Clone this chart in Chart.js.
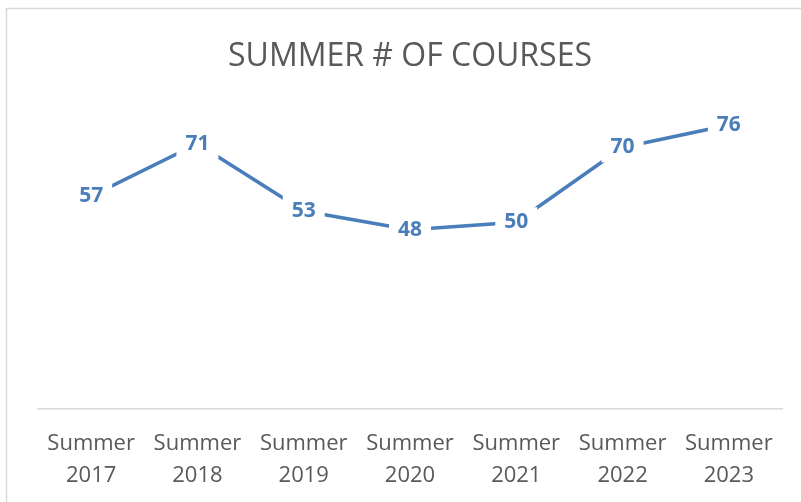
<!DOCTYPE html>
<html>
<head>
<meta charset="utf-8">
<script src="https://cdn.jsdelivr.net/npm/chart.js@4/dist/chart.umd.min.js"></script>
<style>
  html, body { margin: 0; padding: 0; background: #fff; overflow: hidden; }
  #wrap { width: 801px; height: 502px; overflow: hidden; }
</style>
</head>
<body>
<div id="wrap"><canvas id="chart" width="801" height="511"></canvas></div>
<script>
const categories = [
  ['Summer', '2017'], ['Summer', '2018'], ['Summer', '2019'], ['Summer', '2020'],
  ['Summer', '2021'], ['Summer', '2022'], ['Summer', '2023']
];
const courses = [57, 71, 53, 48, 50, 70, 76];

const lineBlue = '#4a7ebb';
const textGrey = '#595959';
const fontName = "'Open Sans', 'Liberation Sans', sans-serif";

// outer frame, like the office chart border
const frame = {
  id: 'frame',
  beforeDraw(chart) {
    const ctx = chart.ctx;
    ctx.save();
    ctx.fillStyle = '#fff';
    ctx.fillRect(0, 0, chart.width, chart.height);
    ctx.strokeStyle = '#d9d9d9';
    ctx.lineWidth = 1.5;
    ctx.strokeRect(6.5, 8.5, chart.width + 10, chart.height + 10);
    ctx.restore();
  }
};

// value labels centred on the points, with a white box that cuts the line
const pointLabels = {
  id: 'pointLabels',
  afterDatasetsDraw(chart) {
    const ctx = chart.ctx;
    const meta = chart.getDatasetMeta(0);
    ctx.save();
    ctx.font = 'bold 21px ' + fontName;
    ctx.textAlign = 'center';
    ctx.textBaseline = 'middle';
    meta.data.forEach((pt, i) => {
      const txt = String(chart.data.datasets[0].data[i]);
      const w = ctx.measureText(txt).width;
      ctx.fillStyle = '#fff';
      ctx.fillRect(pt.x - w / 2 - 9, pt.y - 15, w + 18, 30);
      ctx.fillStyle = lineBlue;
      ctx.fillText(txt, pt.x, pt.y);
    });
    ctx.restore();
  }
};

new Chart(document.getElementById('chart'), {
  type: 'line',
  data: {
    labels: categories,
    datasets: [{
      data: courses,
      borderColor: lineBlue,
      borderWidth: 3.5,
      pointRadius: 0,
      tension: 0,
      fill: false
    }]
  },
  options: {
    responsive: false,
    animation: false,
    layout: { padding: { left: 38, right: 19, top: 0, bottom: 0 } },
    plugins: {
      legend: { display: false },
      tooltip: { enabled: false },
      title: {
        display: true,
        text: 'SUMMER # OF COURSES',
        color: textGrey,
        font: { family: fontName, size: 32, weight: 'normal' },
        padding: { top: 38, bottom: 0 }
      }
    },
    scales: {
      x: {
        offset: true,
        grid: { display: false, drawTicks: false },
        border: { display: true, color: '#d9d9d9', width: 1.5 },
        ticks: {
          color: textGrey,
          font: { family: fontName, size: 22, lineHeight: 1.45 },
          padding: 19,
          maxRotation: 0,
          autoSkip: false
        }
      },
      y: {
        display: false,
        min: 0,
        max: 89
      }
    }
  },
  plugins: [frame, pointLabels]
});
</script>
</body>
</html>
